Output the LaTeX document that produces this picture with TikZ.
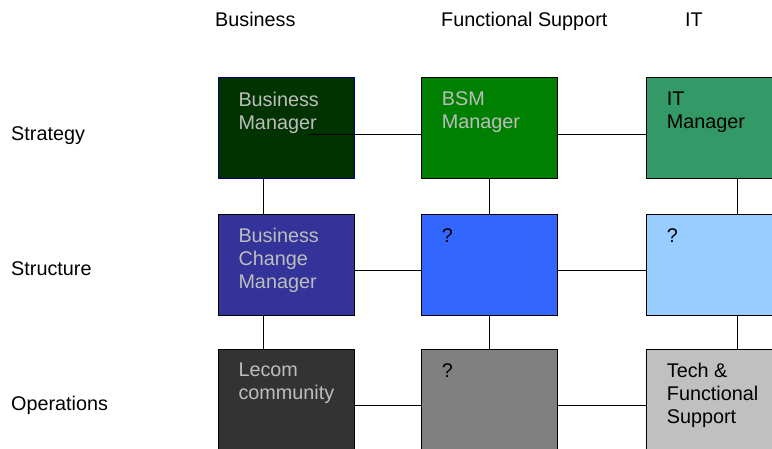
\documentclass[tikz,border=0pt]{standalone}
\usepackage{fontspec}
\setmainfont{Liberation Sans}
\usetikzlibrary{positioning}
\definecolor{bmgreen}{HTML}{003300}
\definecolor{bmedge}{HTML}{000080}
\definecolor{bsmgreen}{HTML}{008000}
\definecolor{itgreen}{HTML}{339966}
\definecolor{bcmblue}{HTML}{333399}
\definecolor{fsblue}{HTML}{3366FF}
\definecolor{itblue}{HTML}{99CCFF}
\definecolor{lecomgrey}{HTML}{333333}
\definecolor{opgrey}{HTML}{808080}
\definecolor{techgrey}{HTML}{C0C0C0}
\definecolor{paletext}{HTML}{BDBDBD}
\tikzset{
  cell/.style={draw=black, line width=1pt, minimum width=136pt, minimum height=101pt,
    inner sep=0pt, outer sep=0pt, anchor=north west},
  celltext/.style={font=\fontsize{19.8}{23}\selectfont, align=left, inner sep=0pt},
  heading/.style={font=\fontsize{19.8}{23}\selectfont, inner sep=0pt, anchor=base west},
  link/.style={draw=black, line width=1pt}
}

\begin{document}
\begin{tikzpicture}[x=1pt,y=-1pt]
  \useasboundingbox (0,0) rectangle (772,448);
  \clip (0,0) rectangle (772,448);
  % Column and row headings
  \node[heading] (colbus) at (215,26.5) {Business};
  \node[heading] (colfs)  at (441,26.5) {Functional Support};
  \node[heading] (colit)  at (685,26.5) {IT};
  \foreach \lbl/\y in {Strategy/140, Structure/275, Operations/410}
    \node[heading] (row\lbl) at (11,\y) {\lbl};
  % Strategy row
  \node[cell, fill=bmgreen, draw=bmedge] (bm) at (218.3,77.7) {};
  \node[celltext, text=paletext, below right=14pt and 20pt of bm.north west] (bmtxt) {Business\\Manager};
  \node[cell, fill=bsmgreen] (bsm) at (421.7,77.7) {};
  \node[celltext, text=paletext, below right=14pt and 20pt of bsm.north west] (bsmtxt) {BSM\\Manager};
  \node[cell, fill=itgreen] (itm) at (646.7,77.7) {};
  \node[celltext, below right=14pt and 20pt of itm.north west] (itmtxt) {IT\\Manager};
  % Structure row
  \node[cell, fill=bcmblue] (bcm) at (218.3,214) {};
  \node[celltext, text=paletext, below right=14pt and 20pt of bcm.north west] (bcmtxt) {Business\\Change\\Manager};
  \node[cell, fill=fsblue] (fsq) at (421.7,214) {};
  \node[celltext, below right=14pt and 20pt of fsq.north west] (fsqtxt) {?};
  \node[cell, fill=itblue] (itq) at (646.7,214) {};
  \node[celltext, below right=14pt and 20pt of itq.north west] (itqtxt) {?};
  % Operations row
  \node[cell, fill=lecomgrey] (lecom) at (218.3,349) {};
  \node[celltext, text=paletext, below right=14pt and 20pt of lecom.north west] (lecomtxt) {Lecom\\community};
  \node[cell, fill=opgrey] (opq) at (421.7,349) {};
  \node[celltext, below right=14pt and 20pt of opq.north west] (opqtxt) {?};
  \node[cell, fill=techgrey] (tfs) at (646.7,349) {};
  \node[celltext, below right=14pt and 20pt of tfs.north west] (tfstxt) {Tech \&\\Functional\\Support};
  % Horizontal links
  \coordinate (bmtap) at ([xshift=22pt,yshift=-6pt]bm.center);
  \draw[link] (bmtap) -- ([yshift=-6pt]bsm.west);
  \draw[link] ([yshift=-6pt]bsm.east) -- ([yshift=-6pt]itm.west);
  \draw[link] ([yshift=-5.5pt]bcm.east) -- ([yshift=-5.5pt]fsq.west);
  \draw[link] ([yshift=-5.5pt]fsq.east) -- ([yshift=-5.5pt]itq.west);
  \draw[link] ([yshift=-5.5pt]lecom.east) -- ([yshift=-5.5pt]opq.west);
  \draw[link] ([yshift=-5.5pt]opq.east) -- ([yshift=-5.5pt]tfs.west);
  % Vertical links
  \draw[link] ([xshift=-23pt]bm.south) -- ([xshift=-23pt]bcm.north);
  \draw[link] ([xshift=-23pt]bcm.south) -- ([xshift=-23pt]lecom.north);
  \draw[link] (bsm.south) -- (fsq.north);
  \draw[link] (fsq.south) -- (opq.north);
  \draw[link] ([xshift=23pt]itm.south) -- ([xshift=23pt]itq.north);
  \draw[link] ([xshift=23pt]itq.south) -- ([xshift=23pt]tfs.north);
\end{tikzpicture}
\end{document}
